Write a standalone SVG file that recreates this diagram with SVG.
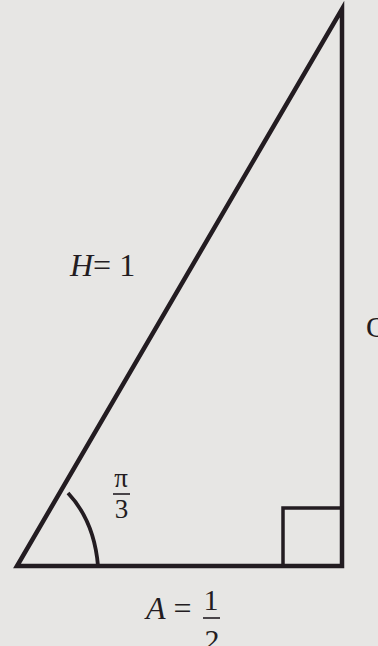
<svg xmlns="http://www.w3.org/2000/svg" width="378" height="646" viewBox="0 0 378 646">
<style>
.ln{fill:none;stroke:#231c21;stroke-width:4.5;stroke-linejoin:miter;stroke-linecap:butt}
.t{font-family:"Liberation Serif","Times New Roman",serif;fill:#231c21}
.i{font-style:italic}
</style>
<rect width="378" height="646" fill="#e7e6e4"/>
<g id="triangle">
<path class="ln" d="M17,566 L342,566 L342,9 Z"/>
<rect class="ln" x="283" y="508" width="59" height="58" style="stroke-width:3.5"/>
<path class="ln" d="M68,493 C82,508 95,530 98,566" style="stroke-width:3.8"/>
</g>
<g id="labels">
<text class="t" x="70" y="276" font-size="32"><tspan class="i">H</tspan>= 1</text>
<text class="t" x="121" y="487" font-size="27" text-anchor="middle">π</text>
<line x1="113" y1="494" x2="130" y2="494" stroke="#231c21" stroke-width="1.6"/>
<text class="t" x="121.5" y="518" font-size="27" text-anchor="middle">3</text>
<text class="t" x="146" y="619" font-size="32"><tspan class="i">A</tspan> =</text>
<text class="t" x="211" y="610" font-size="30" text-anchor="middle">1</text>
<line x1="203" y1="618" x2="220" y2="618" stroke="#231c21" stroke-width="1.6"/>
<text class="t" x="212" y="650" font-size="30" text-anchor="middle">2</text>
<text class="t" x="366" y="337" font-size="30">O</text>
</g>
</svg>
